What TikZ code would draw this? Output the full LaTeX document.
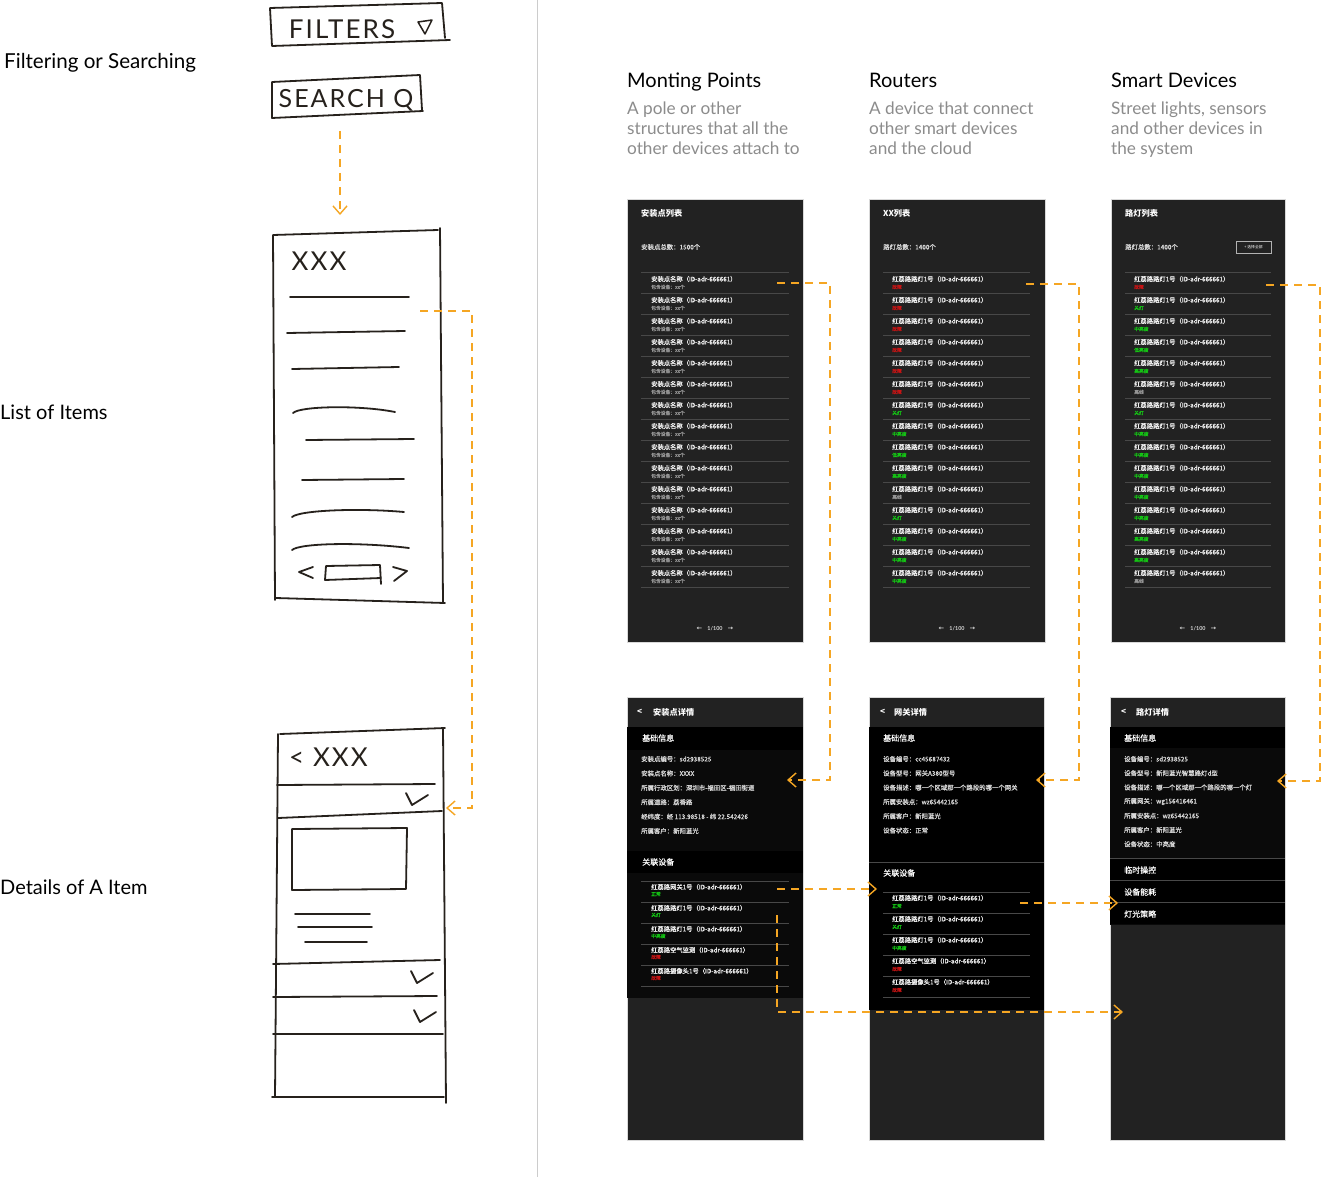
\documentclass[tikz,border=0pt]{standalone}
\usepackage{fontspec}
\setmainfont{Lato}
\newfontfamily\cjk{Noto Sans CJK SC}
\newfontfamily\cjkrow[FakeBold=0.6]{Noto Sans CJK SC}
\newfontfamily\sketchfont[LetterSpace=8]{Lato}
\usepackage{tikz}
\usetikzlibrary{positioning, calc, arrows.meta}
\definecolor{linkorange}{RGB}{245,166,35}
\definecolor{screengrey}{RGB}{34,34,34}
\definecolor{detailblack}{RGB}{10,10,10}
\definecolor{rowline}{RGB}{72,72,72}
\definecolor{captiongrey}{RGB}{140,140,140}
\definecolor{inkbrown}{RGB}{38,33,28}
\definecolor{faultred}{RGB}{200,20,20}
\definecolor{okgreen}{RGB}{20,200,20}
\definecolor{offgrey}{RGB}{150,150,150}

\begin{document}
\begin{tikzpicture}[x=1pt, y=-1pt,
	label/.style={font=\fontsize{20}{24}\selectfont, inner sep=0pt, anchor=base west},
	caption/.style={font=\fontsize{17.2}{20}\selectfont, text=captiongrey, inner sep=0pt, anchor=north west, align=left},
	ink/.style={draw=inkbrown, line width=1.8pt, line cap=round, line join=round},
	sketchtext/.style={font=\sketchfont\fontsize{26}{28}\selectfont, text=inkbrown, inner sep=0pt},
	link/.style={draw=linkorange, line width=1.4pt, dash pattern=on 8pt off 6pt, -{Straight Barb[length=8pt, width=14pt]}},
	screen/.style={fill=screengrey, draw=black!15, line width=0.8pt, anchor=north west, minimum height=443pt, inner sep=0pt},
	screentitle/.style={font=\cjk\bfseries\fontsize{8.2}{9}\selectfont, text=white, anchor=west, inner sep=0pt},
	infotext/.style={font=\cjkrow\fontsize{6.4}{7}\selectfont, text=white!85!black, anchor=west, inner sep=0pt},
	rowtext/.style={font=\cjkrow\fontsize{6.3}{7}\selectfont, text=white!95!black, anchor=west, inner sep=0pt},
	subtext/.style={font=\cjkrow\fontsize{4.8}{5}\selectfont, anchor=west, inner sep=0pt},
	bandtext/.style={font=\cjkrow\fontsize{8}{9}\selectfont, text=white, anchor=west, inner sep=0pt},
	rowsep/.style={draw=rowline, line width=0.7pt},
	pager/.style={font=\bfseries\fontsize{5.4}{6}\selectfont, text=white!85!black, inner sep=0pt}]
	\fill[white] (0,0) rectangle (1321,1177);
	\useasboundingbox (0,0) rectangle (1321,1177);

	\node[label, font=\fontsize{20.6}{24}\selectfont] (filterLabel) at (4,69) {Filtering or Searching};
	\node[label] (listLabel) at (0,419) {List of Items};
	\node[label] (detailLabel) at (0,894) {Details of A Item};
	\draw[black!20, line width=1pt] (537,0) -- (537,1177);

	\draw[ink] (270,8) -- (442,3) -- (445,38) (450,40) -- (272,46) -- (270,8);
	\node[sketchtext] (filterText) at (342,29) {FILTERS};
	\draw[ink, line width=1.5pt] (418,22) -- (432,20) -- (425,34) -- cycle;
	\draw[ink] (272,82) -- (420,75) -- (422,110) (423,111) -- (272,118) -- (272,82);
	\node[sketchtext, font=\sketchfont\fontsize{25}{26}\selectfont] (searchText) at (346,100) {SEARCH Q};
	\coordinate (searchOut) at (340,131);
	\coordinate (listIn) at (340,215);
	\draw[link] (searchOut) -- (listIn);

	\draw[ink] (273,235) -- (438,230) (440,228) -- (443,603) (445,603) -- (276,598) (275,600) -- (273,235);
	\node[sketchtext] (listHead) at (319,261) {XXX};
	\foreach \xa/\ya/\xb/\yb in {290/297/409/297, 287/333/405/331, 292/369/399/367, 306/440/414/439, 302/480/404/479}
		\draw[ink] (\xa,\ya) -- (\xb,\yb);
	\draw[ink] (293,413) .. controls (300,406) and (360,405) .. (395,412);
	\draw[ink] (292,517) .. controls (300,510) and (360,508) .. (404,512);
	\draw[ink] (292,550) .. controls (300,543) and (360,542) .. (409,548);
	\draw[ink] (313,567) -- (299,572) -- (313,578);
	\draw[ink] (326,566) -- (380,565) -- (381,584) (381,578) -- (325,580) -- (326,566);
	\draw[ink] (393,567) -- (407,571) -- (394,581);
	\coordinate (sketchOut) at (420,311);
	\coordinate (sketchIn) at (446,808);
	\draw[link] (sketchOut) -- (472,311) |- (sketchIn);

	\draw[ink] (280,734) -- (445,728) (443,728) -- (446,1103) (444,1097) -- (272,1097) (275,1097) -- (278,734);
	\node[sketchtext, anchor=west] (detailHead) at (289,757) {< XXX};
	\draw[ink] (277,785) -- (435,784);
	\draw[ink] (278,818) -- (442,811);
	\draw[ink] (292,829) -- (407,828) -- (406,889) -- (292,890) -- cycle;
	\draw[ink] (295,914) -- (370,914) (298,927) -- (372,927) (305,942) -- (367,942);
	\draw[ink] (273,964) -- (440,960);
	\draw[ink] (273,997) -- (437,996);
	\draw[ink] (273,1034) -- (443,1034);
	\foreach \cx/\cy in {406/793, 411/971, 414/1010}
		\draw[ink] (\cx,\cy) -- (\cx+6,\cy+12) -- (\cx+22,\cy+2);

	\node[label] (ptName) at (627,88) {Monting Points};
	\node[caption] (ptCaption) at (627,102) {A pole or other\\structures that all the\\other devices attach to};
	\node[label] (gwName) at (869,88) {Routers};
	\node[caption] (gwCaption) at (869,102) {A device that connect\\other smart devices\\and the cloud};
	\node[label] (lampName) at (1111,88) {Smart Devices};
	\node[caption] (lampCaption) at (1111,102) {Street lights, sensors\\and other devices in\\the system};

	\node[screen, minimum width=176pt] (ptList) at (627,199) {};
	\node[screentitle] (ptTitle) at (641,213) {安装点列表};
	\node[infotext] (ptTotal) at (641,247) {安装点总数：1500个};
	\foreach \i in {0,...,14} {
		\draw[rowsep] (641,272+21*\i) -- (789,272+21*\i);
		\node[rowtext] (ptRow\i) at (651,279+21*\i) {安装点名称（ID-adr-666661）};
		\node[subtext, text=offgrey] at (651,287+21*\i) {包含设备：xx个};
	}
	\draw[rowsep] (641,587) -- (789,587);
	\node[pager] (ptPager) at (715,629) {{\cjk ←}\quad1/100\quad{\cjk →}};

	\node[screen, minimum width=176pt] (gwList) at (869,199) {};
	\node[screentitle] (gwTitle) at (883,213) {XX列表};
	\node[infotext] (gwTotal) at (883,247) {路灯总数：1400个};
	\foreach \st/\col [count=\i from 0] in {故障/faultred, 故障/faultred, 故障/faultred, 故障/faultred, 故障/faultred, 故障/faultred, 关灯/okgreen, 中亮度/okgreen, 低亮度/okgreen, 高亮度/okgreen, 离线/offgrey, 关灯/okgreen, 中亮度/okgreen, 中亮度/okgreen, 中亮度/okgreen} {
		\draw[rowsep] (883,272+21*\i) -- (1030,272+21*\i);
		\node[rowtext] (gwRow\i) at (892,279+21*\i) {红荔路路灯1号（ID-adr-666661）};
		\node[subtext, text=\col] at (892,287+21*\i) {\st};
	}
	\draw[rowsep] (883,587) -- (1030,587);
	\node[pager] (gwPager) at (957,629) {{\cjk ←}\quad1/100\quad{\cjk →}};

	\node[screen, minimum width=174pt] (lampList) at (1111,199) {};
	\node[screentitle] (lampTitle) at (1125,213) {路灯列表};
	\node[infotext] (lampTotal) at (1125,247) {路灯总数：1400个};
	\node[draw=white!70!black, line width=0.5pt, minimum width=35pt, minimum height=12pt, inner sep=0pt, text=white, font=\cjk\fontsize{3.8}{4}\selectfont] (lampPick) at (1253.5,247) {+ 选择全部};
	\foreach \st/\col [count=\i from 0] in {故障/faultred, 关灯/okgreen, 中亮度/okgreen, 低亮度/okgreen, 高亮度/okgreen, 离线/offgrey, 关灯/okgreen, 中亮度/okgreen, 中亮度/okgreen, 中亮度/okgreen, 中亮度/okgreen, 中亮度/okgreen, 高亮度/okgreen, 高亮度/okgreen, 离线/offgrey} {
		\draw[rowsep] (1125,272+21*\i) -- (1271,272+21*\i);
		\node[rowtext] (lampRow\i) at (1134,279+21*\i) {红荔路路灯1号（ID-adr-666661）};
		\node[subtext, text=\col] at (1134,287+21*\i) {\st};
	}
	\draw[rowsep] (1125,587) -- (1271,587);
	\node[pager] (lampPager) at (1198,629) {{\cjk ←}\quad1/100\quad{\cjk →}};

	\node[screen, minimum width=176pt] (ptDetail) at (627,697) {};
	\fill[detailblack] (627.4,727) rectangle (802.6,998);
	\fill[black] (627.4,727) rectangle (802.6,750);
	\fill[black] (627.4,851) rectangle (802.6,873);
	\node[screentitle] (ptBack) at (637,712) {<};
	\node[screentitle] (ptDetailTitle) at (653,712) {安装点详情};
	\node[bandtext] (ptBase) at (642,738) {基础信息};
	\foreach \txt [count=\i from 0] in {安装点编号：sd2938525, 安装点名称：XXXX, 所属行政区划：深圳市-福田区-福田街道, 所属道路：荔香路, 经纬度：经 113.98518 - 纬 22.542426, 所属客户：新阳蓝光}
		\node[infotext] at (641,759+14.4*\i) {\txt};
	\node[bandtext] (ptRelated) at (642,862) {关联设备};
	\foreach \nm/\st/\col [count=\i from 0] in {红荔路网关1号/正常/okgreen, 红荔路路灯1号/关灯/okgreen, 红荔路路灯1号/中亮度/okgreen, 红荔路空气监测/故障/faultred, 红荔路摄像头1号/故障/faultred} {
		\draw[rowsep] (641,881+21*\i) -- (789,881+21*\i);
		\node[rowtext] (ptRel\i) at (651,887+21*\i) {{\nm}（ID-adr-666661）};
		\node[subtext, text=\col] at (651,894+21*\i) {\st};
	}
	\draw[rowsep] (641,986) -- (789,986);

	\node[screen, minimum width=175pt] (gwDetail) at (869,697) {};
	\fill[black] (869.4,727) rectangle (1043.6,1010);
	\node[screentitle] (gwBack) at (880,712) {<};
	\node[screentitle] (gwDetailTitle) at (894,712) {网关详情};
	\node[bandtext] (gwBase) at (883,738) {基础信息};
	\foreach \txt [count=\i from 0] in {设备编号：cc45687432, 设备型号：网关A380型号, 设备描述：哪一个区域那一个路段的哪一个网关, 所属安装点：wz65442165, 所属客户：新阳蓝光, 设备状态：正常}
		\node[infotext] at (883,759+14.3*\i) {\txt};
	\draw[rowsep] (869.4,862) -- (1043.6,862);
	\node[bandtext] (gwRelated) at (883,873) {关联设备};
	\foreach \nm/\st/\col [count=\i from 0] in {红荔路路灯1号/正常/okgreen, 红荔路路灯1号/关灯/okgreen, 红荔路路灯1号/中亮度/okgreen, 红荔路空气监测/故障/faultred, 红荔路摄像头1号/故障/faultred} {
		\draw[rowsep] (883,892+21*\i) -- (1030,892+21*\i);
		\node[rowtext] (gwRel\i) at (892,898+21*\i) {{\nm}（ID-adr-666661）};
		\node[subtext, text=\col] at (892,906+21*\i) {\st};
	}
	\draw[rowsep] (883,997) -- (1030,997);

	\node[screen, minimum width=175pt] (lampDetail) at (1110,697) {};
	\fill[detailblack] (1110.4,727) rectangle (1284.6,925);
	\fill[black] (1110.4,727) rectangle (1284.6,748);
	\node[screentitle] (lampBack) at (1121,712) {<};
	\node[screentitle] (lampDetailTitle) at (1136,712) {路灯详情};
	\node[bandtext] (lampBase) at (1124,738) {基础信息};
	\foreach \txt [count=\i from 0] in {设备编号：sd2938525, 设备型号：新阳蓝光智慧路灯d型, 设备描述：哪一个区域那一个路段的哪一个灯, 所属网关：wg156416461, 所属安装点：wz65442165, 所属客户：新阳蓝光, 设备状态：中亮度}
		\node[infotext] at (1124,759+14.2*\i) {\txt};
	\foreach \txt [count=\i from 0] in {临时操控, 设备能耗, 灯光策略} {
		\fill[black] (1110.4,859+22*\i) rectangle (1284.6,880+22*\i);
		\draw[rowsep] (1110.4,858.5+22*\i) -- (1284.6,858.5+22*\i);
		\node[bandtext] at (1124,870+22*\i) {\txt};
	}

	\coordinate (ptOut) at (777,283);
	\coordinate (ptIn) at (787,780);
	\draw[link] (ptOut) -- (830,283) |- (ptIn);
	\coordinate (gwOut) at (1026,284);
	\coordinate (gwIn) at (1036,780);
	\draw[link] (gwOut) -- (1079,284) |- (gwIn);
	\coordinate (lampOut) at (1266,285);
	\coordinate (lampIn) at (1277,781);
	\draw[link] (lampOut) -- (1320,285) |- (lampIn);
	\coordinate (ptRelOut) at (777,889);
	\coordinate (gwRelIn) at (877,889);
	\draw[link] (ptRelOut) -- (gwRelIn);
	\coordinate (gwRelOut) at (1020,903);
	\coordinate (lampRuleIn) at (1118,903);
	\draw[link] (gwRelOut) -- (lampRuleIn);
	\coordinate (ptDownOut) at (777,915);
	\coordinate (lampBottomIn) at (1123,1012);
	\draw[link] (ptDownOut) |- (lampBottomIn);
\end{tikzpicture}
\end{document}
